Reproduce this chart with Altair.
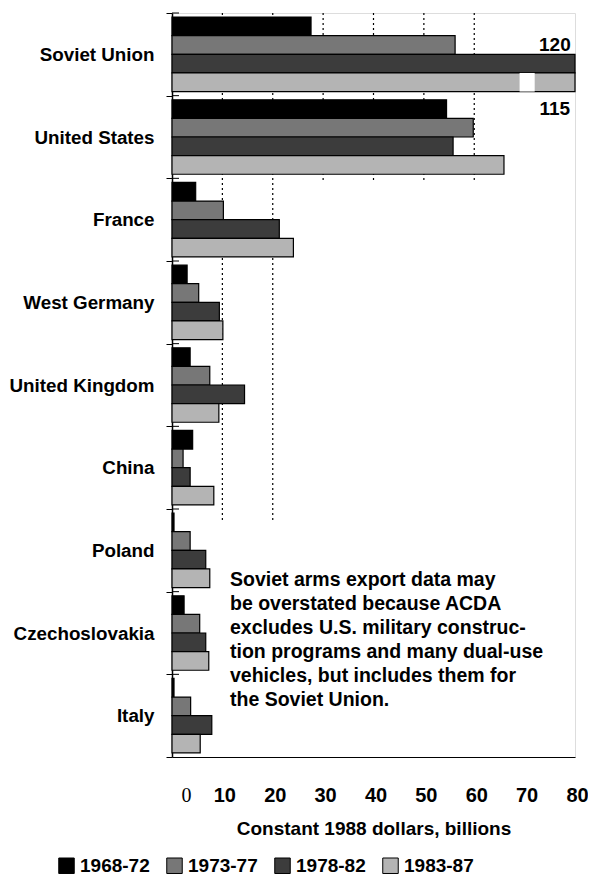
import altair as alt
import pandas as pd

countries = ["Soviet Union", "United States", "France", "West Germany",
             "United Kingdom", "China", "Poland", "Czechoslovakia", "Italy"]
periods = ["1968-72", "1973-77", "1978-82", "1983-87"]

v_1968_72 = [27.6, 54.5, 4.7, 3.0, 3.6, 4.1, 0.4, 2.4, 0.4]
v_1973_77 = [56.2, 59.8, 10.2, 5.3, 7.5, 2.2, 3.6, 5.5, 3.7]
v_1978_82 = [120, 55.8, 21.3, 9.4, 14.4, 3.6, 6.7, 6.7, 7.9]
v_1983_87 = [115, 65.9, 24.1, 10.1, 9.3, 8.3, 7.5, 7.3, 5.6]

colors = ["#000000", "#777777", "#3c3c3c", "#b4b4b4"]

note_lines = ["Soviet arms export data may",
              "be overstated because ACDA",
              "excludes U.S. military construc-",
              "tion programs and many dual-use",
              "vehicles, but includes them for",
              "the Soviet Union."]

grid_long = [10, 20]
grid_short = [30, 40, 50, 60]

rows = []
for i, c in enumerate(countries):
    for p, vals in zip(periods, [v_1968_72, v_1973_77, v_1978_82, v_1983_87]):
        rows.append({"country": c, "period": p, "value": vals[i]})
df = pd.DataFrame(rows)

label_df = pd.DataFrame({
    "country": ["Soviet Union", "United States"],
    "period": ["1973-77", "1968-72"],
    "label": ["120", "115"],
    "pos": [76.0, 76.0],
})
break_df = pd.DataFrame({"country": ["Soviet Union"], "period": ["1983-87"],
                         "start": [69.0], "end": [72.0]})

FONT = "Liberation Sans"

xscale = alt.Scale(domain=[0, 80], nice=False, clamp=True)
yscale = alt.Scale(domain=countries, paddingInner=0, paddingOuter=0)
yoff = alt.YOffset("period:N", sort=periods,
                   scale=alt.Scale(domain=periods, paddingInner=0, paddingOuter=0.22))

y_enc = alt.Y("country:N", sort=countries, scale=yscale, title=None,
              axis=alt.Axis(labelFont=FONT, labelFontSize=18.8, labelFontWeight="bold",
                            labelColor="black", tickBand="extent", tickSize=6,
                            tickColor="black", domainColor="black", domainWidth=1.5,
                            labelPadding=12, grid=False))

x_enc = alt.X("value:Q", scale=xscale,
              axis=alt.Axis(values=[0, 10, 20, 30, 40, 50, 60, 70, 80],
                            title="Constant 1988 dollars, billions",
                            titleFont=FONT, titleFontSize=19, titleFontWeight="bold",
                            titleColor="black", titlePadding=14,
                            labelFont={"condition": {"test": "datum.value == 0", "value": "Liberation Serif"}, "value": FONT},
                            labelFontWeight={"condition": {"test": "datum.value == 0", "value": "normal"}, "value": "bold"},
                            labelOffset={"condition": {"test": "datum.value == 0", "value": 14}, "value": 2},
                            labelFontSize=20, labelColor="black", labelPadding=28,
                            ticks=False, grid=False, domainColor="black",
                            domainWidth=1.2, labelFlush=False))

grid_a = alt.Chart(pd.DataFrame({"g": grid_long})).mark_rule(
    color="black", strokeDash=[2, 3], strokeWidth=1.2
).encode(x=alt.X("g:Q", scale=xscale), y=alt.value(0), y2=alt.value(510))

grid_b = alt.Chart(pd.DataFrame({"g": grid_short})).mark_rule(
    color="black", strokeDash=[2, 3], strokeWidth=1.2
).encode(x=alt.X("g:Q", scale=xscale), y=alt.value(0), y2=alt.value(168))

# inner half of the band ticks so they cross the axis line
inner_ticks = alt.Chart(pd.DataFrame({"country": countries})).mark_rule(
    color="black", strokeWidth=1
).encode(
    y=alt.Y("country:N", sort=countries, scale=yscale, title=None, bandPosition=0),
    x=alt.value(0), x2=alt.value(7),
)

bars = alt.Chart(df).mark_bar(stroke="black", strokeWidth=1.2).encode(
    x=x_enc,
    y=y_enc,
    yOffset=yoff,
    color=alt.Color("period:N", sort=periods,
                    scale=alt.Scale(domain=periods, range=colors),
                    legend=alt.Legend(title=None, orient="none", direction="horizontal",
                                      legendX=-115, legendY=843,
                                      symbolType="square", symbolSize=240,
                                      symbolStrokeColor="black", symbolStrokeWidth=1,
                                      labelFont=FONT, labelFontSize=19,
                                      labelFontWeight="bold", labelColor="black",
                                      columnPadding=14, symbolOffset=0)),
)

gap = alt.Chart(break_df).mark_bar(color="white").encode(
    x=alt.X("start:Q", scale=xscale), x2="end:Q",
    y=alt.Y("country:N", sort=countries, scale=yscale, title=None),
    yOffset=yoff,
)

labels = alt.Chart(label_df).mark_text(
    font=FONT, fontSize=19, fontWeight="bold", color="black", align="center",
    baseline="middle"
).encode(
    x=alt.X("pos:Q", scale=xscale),
    y=alt.Y("country:N", sort=countries, scale=yscale, title=None),
    yOffset=yoff,
    text="label:N",
)

note = alt.Chart(pd.DataFrame({"t": ["\n".join(note_lines)]})).mark_text(
    font=FONT, fontSize=19.5, fontWeight="bold", color="black", align="left",
    baseline="top", lineBreak="\n", lineHeight=24
).encode(x=alt.value(58), y=alt.value(558), text="t:N")

chart = alt.layer(grid_a, grid_b, inner_ticks, bars, gap, labels, note).properties(
    width=403, height=744,
    autosize=alt.AutoSizeParams(type="none"),
    padding={"left": 164, "top": 5, "right": 13, "bottom": 118},
).configure_view(stroke=None).configure(background="white")

chart.save("out.html", embed_options={"renderer": "svg", "actions": False})
